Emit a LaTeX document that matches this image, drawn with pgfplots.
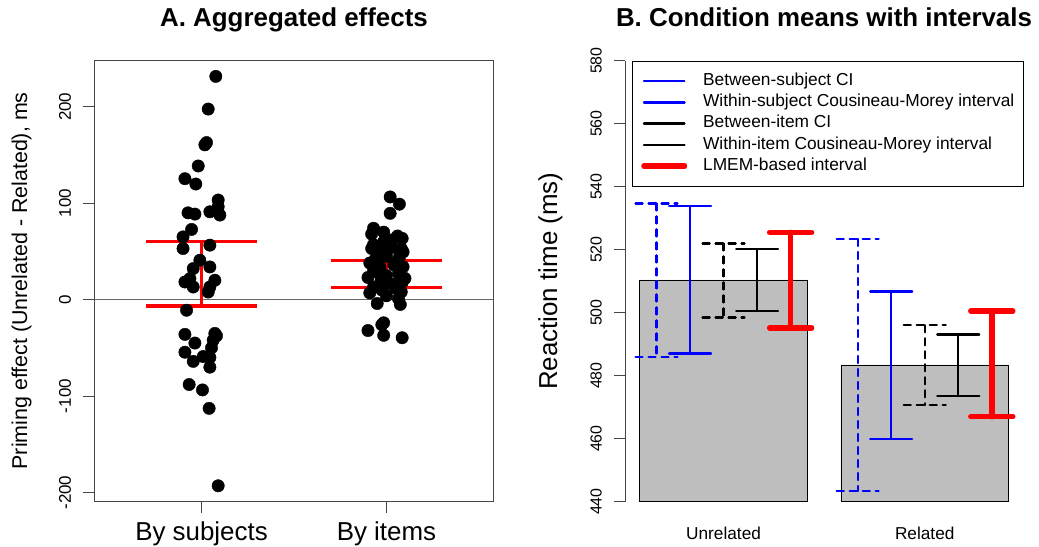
\documentclass[border=0pt]{standalone}
\usepackage{fontspec}
\setmainfont{Liberation Sans}
\usepackage{pgfplots}
\pgfplotsset{compat=1.18}
\definecolor{bargray}{RGB}{190,190,190}
\definecolor{framegray}{RGB}{70,70,70}
\tikzset{
  bsub/.style={blue, line width=2.3bp, line cap=round, dash pattern=on 7bp off 6bp},
  wsub/.style={blue, line width=2.3bp, line cap=round},
  bitem/.style={black, line width=2.3bp, line cap=round, dash pattern=on 7bp off 6bp},
  witem/.style={black, line width=2.3bp, line cap=round},
  lmem/.style={red, line width=5.5bp, line cap=round},
}
\begin{document}
\begin{tikzpicture}
\path[use as bounding box] (0,0) rectangle (1039bp,547bp);

% ---------------- Panel A ----------------
\begin{axis}[
  at={(94.3bp,45.3bp)}, anchor=south west,
  scale only axis, width=399.4bp, height=441.7bp,
  xmin=0.42, xmax=2.58, ymin=-209.5, ymax=248.5,
  axis line style={framegray, line width=0.9bp},
  tick style={framegray, line width=0.9bp},
  tick align=outside, major tick length=11bp,
  xtick pos=left, ytick pos=left,
  xtick={1,2}, xticklabels={By subjects,By items},
  ytick={-200,-100,0,100,200}, yticklabels={-200,-100,0,100,200},
  xticklabel style={font=\fontsize{26}{30}\selectfont, anchor=base, yshift=-27.3bp},
  yticklabel style={font=\fontsize{17}{20}\selectfont, xshift=-12.3bp, rotate=90, anchor=base},
  ylabel={Priming effect (Unrelated - Related), ms},
  ylabel style={font=\fontsize{21.5}{25}\selectfont, at={(axis description cs:-0.1683,0.5)}, anchor=base},
  unbounded coords=jump,
]
\addplot[black!60, line width=1bp] coordinates {(0.42,0) (2.58,0)};
% By subjects
\addplot[only marks, mark=*, mark size=6.2bp, black] table {
x y
1.077 231.5
1.036 197.6
1.027 162.9
1.018 160.5
0.982 138.6
0.910 125.4
0.969 119.9
1.090 103.3
1.090 96.3
1.045 91.1
1.099 87.7
0.927 90.0
0.964 88.7
0.946 72.8
0.900 65.1
0.900 53.0
1.045 56.5
0.991 40.9
0.955 32.2
1.045 33.9
0.910 18.3
0.937 21.8
0.955 13.1
1.045 13.1
1.072 20.1
1.036 7.9
0.919 -11.0
0.910 -36.0
1.072 -35.0
1.081 -37.5
0.964 -45.0
1.063 -42.0
1.054 -50.0
0.910 -54.5
1.009 -59.0
1.045 -60.0
0.955 -64.0
1.045 -70.0
0.933 -88.0
1.005 -93.6
1.041 -112.7
1.090 -193.0
};
% By items
\addplot[only marks, mark=*, mark size=6.2bp, black] table {
x y
2.020 106.5
2.070 99.0
2.020 89.5
1.930 74.0
1.985 70.0
1.920 68.0
2.085 63.5
1.985 60.0
1.930 57.0
1.965 55.0
1.920 53.0
2.030 54.0
2.080 53.0
2.090 49.5
1.970 48.0
2.000 45.0
1.940 42.0
2.060 40.0
2.040 36.0
1.965 34.0
2.090 34.0
1.930 30.0
2.065 27.0
2.000 25.0
1.900 23.0
2.100 22.0
1.970 19.0
2.030 16.0
1.930 13.0
1.975 10.0
2.080 8.0
1.910 7.0
2.000 4.0
2.065 1.0
1.950 -4.0
2.075 -5.0
1.985 -24.0
1.975 -26.0
1.900 -32.0
1.985 -37.0
2.085 -39.5
2.030 62.0
2.070 44.0
1.955 28.0
2.085 18.0
1.910 38.0
2.050 12.0
2.060 66.0
};
\addplot[red, line width=3.2bp] coordinates {
(0.7,60) (1.3,60) (nan,nan) (1,60) (1,-6.5) (nan,nan) (0.7,-6.5) (1.3,-6.5) (nan,nan)
(1.7,41) (2.3,41) (nan,nan) (2,41) (2,13) (nan,nan) (1.7,13) (2.3,13)};
\end{axis}

% ---------------- Panel B ----------------
\begin{axis}[
  at={(625bp,45.3bp)}, anchor=south west,
  scale only axis, width=398.3bp, height=441bp,
  xmin=0.112, xmax=2.488, ymin=440, ymax=580,
  axis x line*=bottom, axis y line*=left,
  x axis line style={draw=none},
  y axis line style={framegray, line width=0.9bp},
  major x tick style={draw=none},
  major y tick style={framegray, line width=0.9bp},
  tick align=outside, major tick length=11bp,
  xtick={0.7,1.9}, xticklabels={Unrelated,Related},
  ytick={440,460,480,500,520,540,560,580},
  yticklabels={440,460,480,500,520,540,560,580},
  xticklabel style={font=\fontsize{17.3}{20}\selectfont, anchor=base, yshift=-27.3bp},
  yticklabel style={font=\fontsize{16}{19}\selectfont, xshift=-12.3bp, rotate=90, anchor=base},
  ylabel={Reaction time (ms)},
  ylabel style={font=\fontsize{26}{30}\selectfont, at={(axis description cs:-0.1707,0.5)}, anchor=base},
  unbounded coords=jump,
  legend cell align=left,
  legend style={at={(1,1)}, anchor=north east, draw=black, line width=0.8bp, fill=white,
    inner xsep=8.6bp, inner ysep=9.5bp, row sep=0pt, column sep=16bp,
    font=\fontsize{17.4}{21}\selectfont,
    nodes={inner xsep=0pt, inner ysep=2.1bp, text height=12.8bp, text depth=4.2bp}},
]
\addplot[ybar, bar width=1, fill=bargray, draw=black, line width=0.7bp, forget plot]
  coordinates {(0.7,510.4) (1.9,483.4)};

\addplot[bsub, legend image code/.code={\path (-6.4bp,0bp) -- (34bp,0bp); \draw[bsub] (0bp,0bp) -- (34bp,0bp);}] coordinates {
(0.175,534.7) (0.425,534.7) (nan,nan) (0.3,534.7) (0.3,486.0) (nan,nan) (0.175,486.0) (0.425,486.0) (nan,nan)
(1.375,523.4) (1.625,523.4) (nan,nan) (1.5,523.4) (1.5,443.4) (nan,nan) (1.375,443.4) (1.625,443.4)};
\addlegendentry{Between-subject CI}

\addplot[wsub, legend image code/.code={\path (-6.4bp,0bp) -- (34bp,0bp); \draw[wsub] (0bp,0bp) -- (34bp,0bp);}] coordinates {
(0.375,533.9) (0.625,533.9) (nan,nan) (0.5,533.9) (0.5,487.0) (nan,nan) (0.375,487.0) (0.625,487.0) (nan,nan)
(1.575,506.7) (1.825,506.7) (nan,nan) (1.7,506.7) (1.7,459.9) (nan,nan) (1.575,459.9) (1.825,459.9)};
\addlegendentry{Within-subject Cousineau-Morey interval}

\addplot[bitem, legend image code/.code={\path (-6.4bp,0bp) -- (34bp,0bp); \draw[bitem] (0bp,0bp) -- (34bp,0bp);}] coordinates {
(0.575,522.0) (0.825,522.0) (nan,nan) (0.7,522.0) (0.7,498.5) (nan,nan) (0.575,498.5) (0.825,498.5) (nan,nan)
(1.775,496.0) (2.025,496.0) (nan,nan) (1.9,496.0) (1.9,470.7) (nan,nan) (1.775,470.7) (2.025,470.7)};
\addlegendentry{Between-item CI}

\addplot[witem, legend image code/.code={\path (-6.4bp,0bp) -- (34bp,0bp); \draw[witem] (0bp,0bp) -- (34bp,0bp);}] coordinates {
(0.775,520.2) (1.025,520.2) (nan,nan) (0.9,520.2) (0.9,500.5) (nan,nan) (0.775,500.5) (1.025,500.5) (nan,nan)
(1.975,493.1) (2.225,493.1) (nan,nan) (2.1,493.1) (2.1,473.6) (nan,nan) (1.975,473.6) (2.225,473.6)};
\addlegendentry{Within-item Cousineau-Morey interval}

\addplot[lmem, legend image code/.code={\path (-6.4bp,0bp) -- (34bp,0bp); \draw[lmem] (0bp,0bp) -- (34bp,0bp);}] coordinates {
(0.975,525.5) (1.225,525.5) (nan,nan) (1.1,525.5) (1.1,495.2) (nan,nan) (0.975,495.2) (1.225,495.2) (nan,nan)
(2.175,500.5) (2.425,500.5) (nan,nan) (2.3,500.5) (2.3,467.0) (nan,nan) (2.175,467.0) (2.425,467.0)};
\addlegendentry{LMEM-based interval}
\end{axis}

\node[anchor=base, font=\bfseries\fontsize{26}{30}\selectfont] at (294bp,520bp) {A. Aggregated effects};
\node[anchor=base, font=\bfseries\fontsize{26}{30}\selectfont] at (824bp,520bp) {B. Condition means with intervals};
\end{tikzpicture}
\end{document}
